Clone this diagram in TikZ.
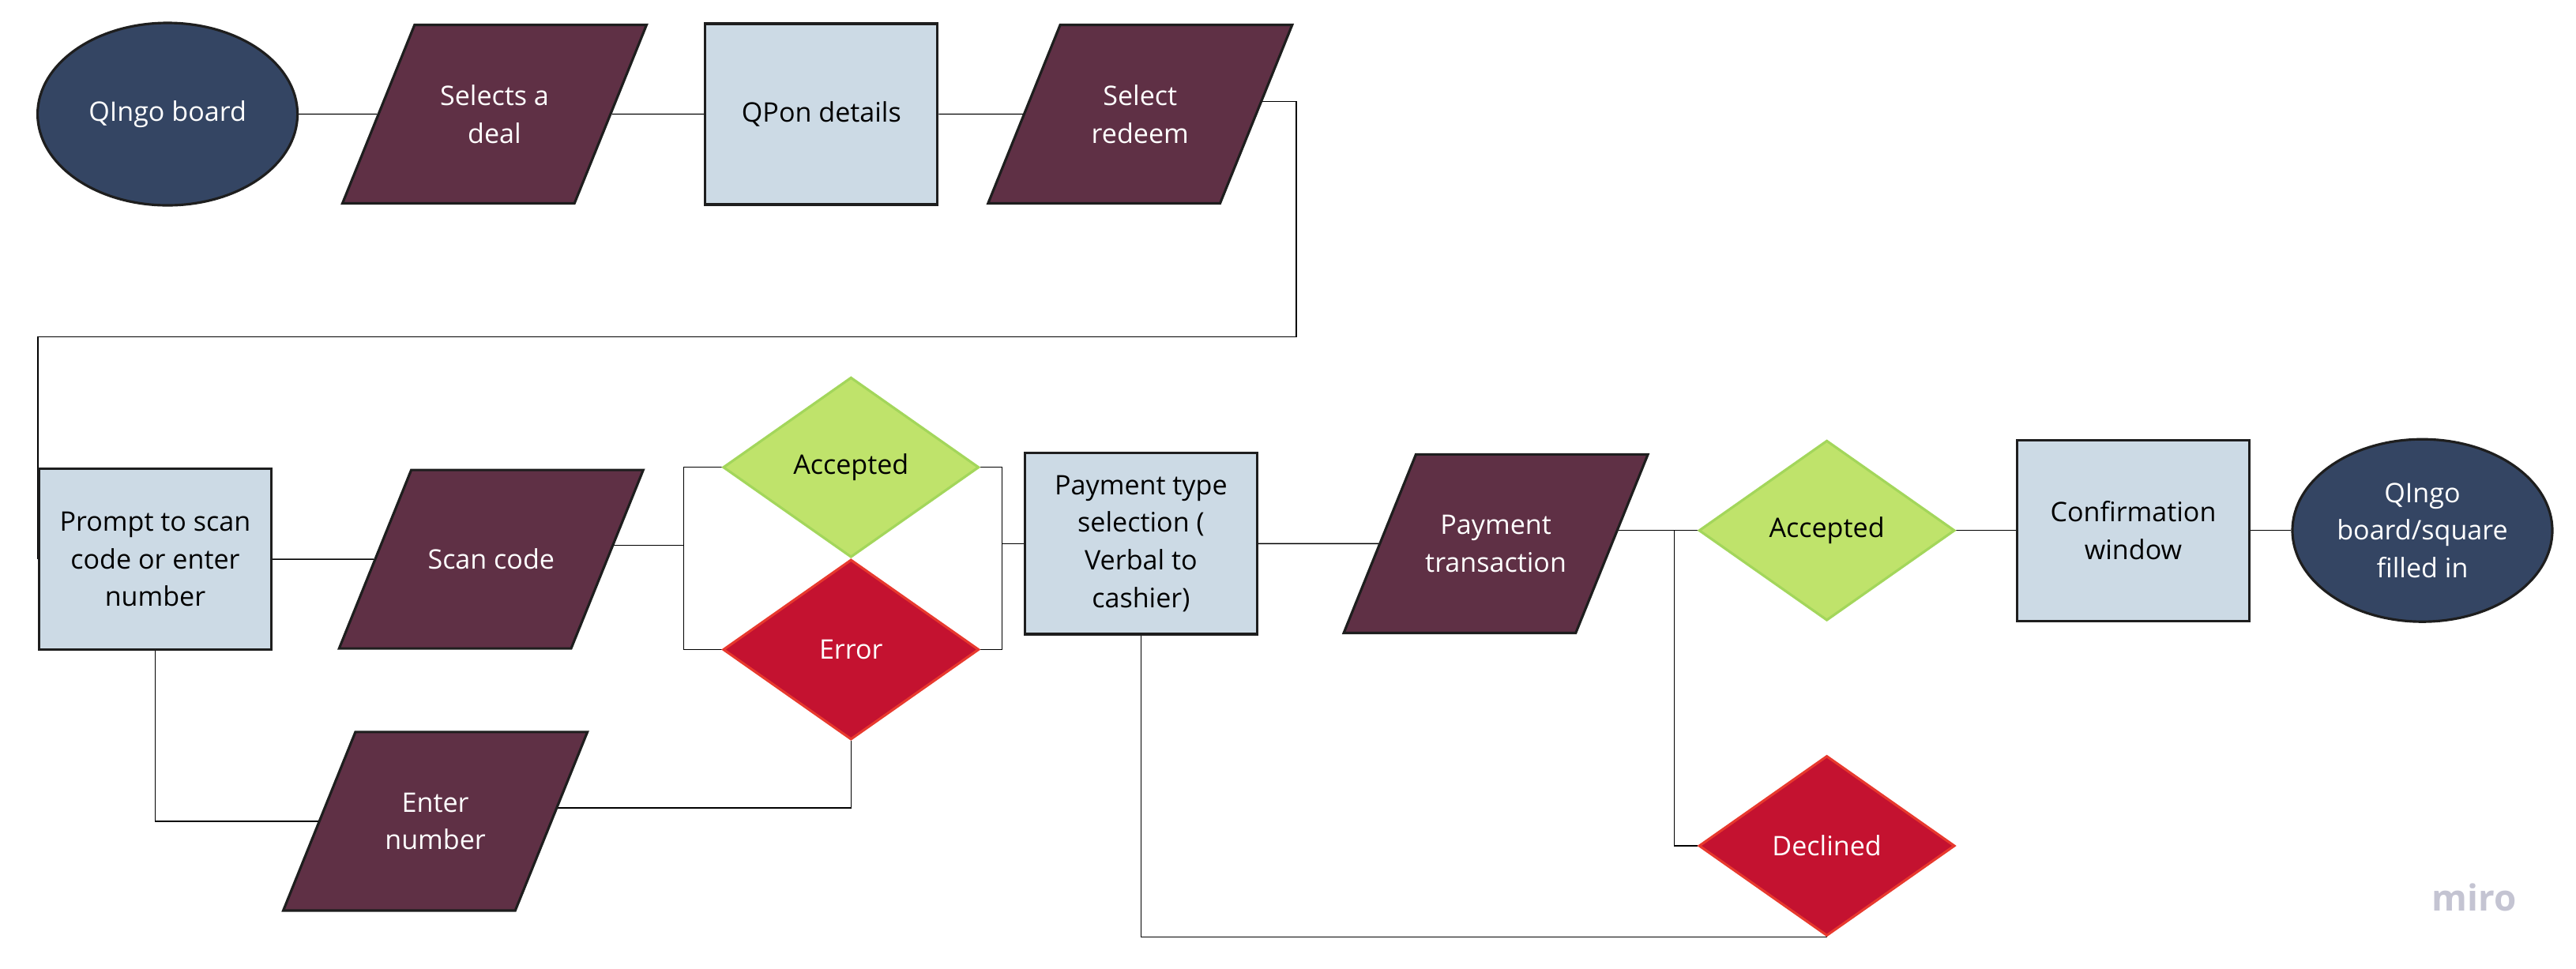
\documentclass[tikz,border=0pt]{standalone}
\usepackage{fontspec}
\setmainfont{Open Sans}
\usetikzlibrary{shapes.geometric}
\usetikzlibrary{backgrounds}

\definecolor{qnavy}{HTML}{344563}
\definecolor{qplum}{HTML}{5F3045}
\definecolor{qpale}{HTML}{CCDAE5}
\definecolor{qlime}{HTML}{BFE36B}
\definecolor{qlimeline}{HTML}{A3D65B}
\definecolor{qred}{HTML}{C41230}
\definecolor{qredline}{HTML}{E8392E}
\definecolor{qedge}{HTML}{1E1E1E}
\definecolor{qwire}{HTML}{BEBEBE}
\definecolor{qlogo}{HTML}{C4C4D2}

\begin{document}
\begin{tikzpicture}[
		every node/.style={font=\fontsize{9.7}{13.6}\selectfont, align=center, inner sep=2pt},
		terminal/.style={ellipse, draw=qedge, line width=0.9pt, fill=qnavy, text=white, minimum width=3.29cm, minimum height=2.31cm},
		inout/.style={trapezium, trapezium left angle=68, trapezium right angle=112, trapezium stretches body, draw=qedge, line width=0.9pt, fill=qplum, text=white, minimum width=3.85cm,
			execute at begin node={\begin{minipage}[c][2.12cm][c]{1.9cm}\centering}, execute at end node={\end{minipage}}},
		process/.style={rectangle, draw=qedge, line width=0.9pt, fill=qpale, text=black, minimum width=2.94cm, minimum height=2.29cm},
		okdecision/.style={diamond, draw=qlimeline, line width=0.9pt, fill=qlime, text=black, minimum width=3.24cm, minimum height=2.28cm},
		baddecision/.style={diamond, draw=qredline, line width=0.9pt, fill=qred, text=white, minimum width=3.24cm, minimum height=2.28cm},
		wire/.style={draw=qwire, line width=0.55pt}
	]
		\useasboundingbox (0,0) rectangle (32.61,-12.26);
		\node[terminal] (start) at (2.121,-1.445) {QIngo board};
		\node[inout] (deal) at (6.260,-1.445) {Selects a\\deal};
		\node[process] (qpon) at (10.399,-1.445) {QPon details};
		\node[inout] (redeem) at (14.433,-1.445) {Select\\redeem};
		\node[process] (prompt) at (1.965,-7.081) {Prompt to scan\\code or enter\\number};
		\node[inout] (scan) at (6.218,-7.081) {Scan code};
		\node[okdecision] (acc1) at (10.773,-5.917) {Accepted};
		\node[baddecision] (err1) at (10.773,-8.225) {Error};
		\node[inout] (enter) at (5.511,-10.399) {Enter\\number};
		\node[process] (paytype) at (14.444,-6.884) {Payment type\\selection (\\Verbal to\\cashier)};
		\node[inout] (trans) at (18.936,-6.884) {Payment\\transaction};
		\node[okdecision] (acc2) at (23.126,-6.717) {Accepted};
		\node[baddecision] (decl) at (23.126,-10.710) {Declined};
		\node[process] (conf) at (27.005,-6.717) {Confirmation\\window};
		\node[terminal] (finish) at (30.665,-6.717) {QIngo\\board/square\\filled in};
		\node[text=qlogo, font=\fontsize{13}{13}\selectfont\bfseries] (miro) at (31.32,-11.36) {miro};

		\coordinate (loop) at (16.41,-4.263);
		\coordinate (lsplit) at (8.652,-6.904);
		\coordinate (rsplit) at (12.686,-6.884);
		\coordinate (psplit) at (21.192,-6.717);

		\begin{scope}[on background layer, wire]
		\draw (start) -- (deal);
		\draw (deal) -- (qpon);
		\draw (qpon) -- (redeem);
		\draw ([yshift=0.16cm]redeem.east) -| (loop) -| (prompt.west);
		\draw (prompt) -- (scan);
		\draw (scan.east |- lsplit) -- (lsplit);
		\draw (acc1.west) -| (lsplit) |- (err1.west);
		\draw (acc1.east) -| (rsplit) |- (err1.east);
		\draw (rsplit) -- (paytype);
		\draw (err1.south) |- ([yshift=0.17cm]enter.east);
		\draw (enter) -| (prompt.south);
		\draw (paytype) -- (trans);
		\draw (trans.east |- acc2) -- (acc2.west);
		\draw (psplit) |- (decl.west);
		\draw (paytype.south) |- (decl.south);
		\draw (acc2) -- (conf);
		\draw (conf) -- (finish);
		\end{scope}
	\end{tikzpicture}
\end{document}
